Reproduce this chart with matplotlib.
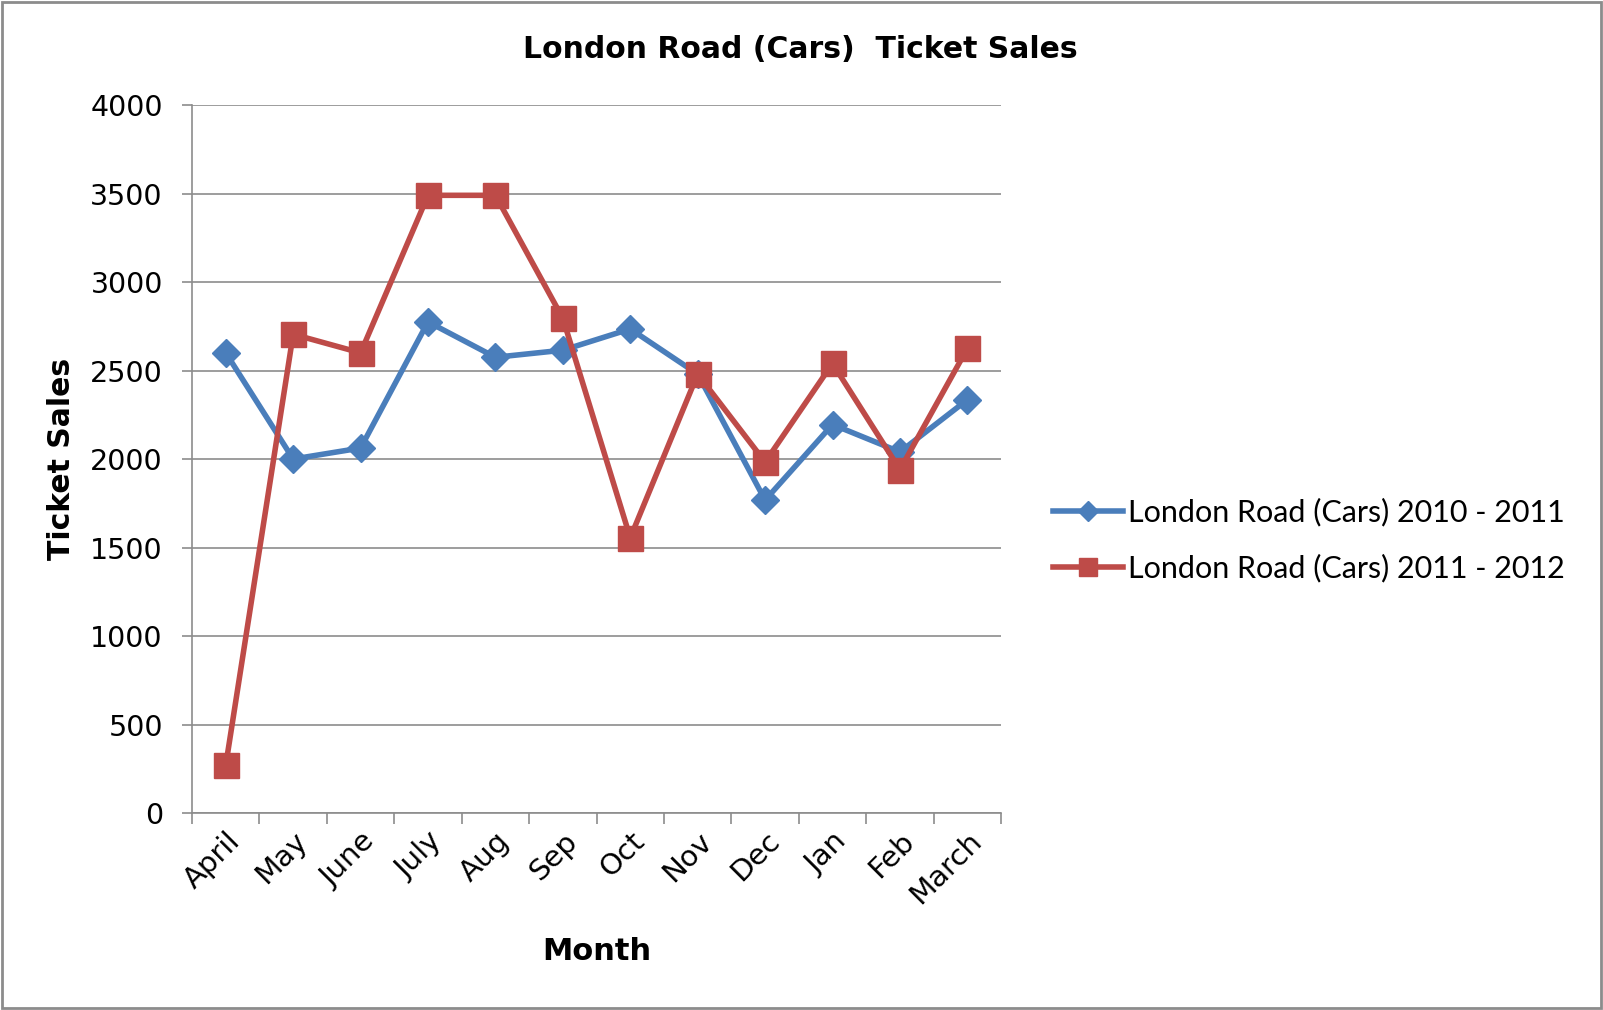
import matplotlib
matplotlib.use("Agg")
import matplotlib.pyplot as plt
from matplotlib.patches import Rectangle

months = ["April", "May", "June", "July", "Aug", "Sep", "Oct", "Nov", "Dec", "Jan", "Feb", "March"]
sales_2010_2011 = [2600, 2000, 2062, 2775, 2575, 2615, 2735, 2480, 1768, 2195, 2040, 2335]
sales_2011_2012 = [270, 2705, 2600, 3490, 3490, 2795, 1555, 2480, 1983, 2540, 1940, 2625]
series_labels = ["London Road (Cars) 2010 - 2011", "London Road (Cars) 2011 - 2012"]
y_ticks = [0, 500, 1000, 1500, 2000, 2500, 3000, 3500, 4000]

fig = plt.figure(figsize=(16.03, 10.10), dpi=100)
fig.patches.append(Rectangle((0.0015, 0.002), 0.997, 0.996, transform=fig.transFigure,
                             fill=False, edgecolor="#8c8c8c", linewidth=2))
ax = fig.add_axes([0.1198, 0.195, 0.5047, 0.701])

x = [i + 0.5 for i in range(len(months))]
blue = "#4A7EBB"
red = "#BE4B48"
ax.plot(x, sales_2010_2011, color=blue, linewidth=4, marker="D", markersize=14,
        markeredgecolor=blue, label=series_labels[0], zorder=3)
ax.plot(x, sales_2011_2012, color=red, linewidth=4, marker="s", markersize=18,
        markeredgecolor=red, label=series_labels[1], zorder=4)

ax.set_xlim(0, 12)
ax.set_ylim(0, 4000)
ax.set_yticks(y_ticks)
ax.set_yticklabels([str(v) for v in y_ticks], fontsize=20.5)
ax.yaxis.grid(True, color="#8c8c8c", linewidth=1.2)
ax.set_axisbelow(True)
ax.tick_params(axis="y", length=7, color="#8c8c8c", width=1.2, pad=14)

ax.set_xticks(range(0, 13))
ax.set_xticklabels([""] * 13)
ax.tick_params(axis="x", which="major", length=8, color="#8c8c8c", width=1.2)
ax.set_xticks(x, minor=True)
ax.set_xticklabels(months, minor=True, rotation=45, ha="right", rotation_mode="anchor", fontsize=21)
ax.tick_params(axis="x", which="minor", length=0, pad=10)

for s in ["top", "right"]:
    ax.spines[s].set_visible(False)
for s in ["left", "bottom"]:
    ax.spines[s].set_color("#8c8c8c")
    ax.spines[s].set_linewidth(1.2)

ax.set_ylabel("Ticket Sales", fontsize=21.5, fontweight="bold", labelpad=10)
ax.set_xlabel("Month", fontsize=22, fontweight="bold", labelpad=20)
fig.text(0.4995, 0.951, "London Road (Cars)  Ticket Sales", ha="center", va="center",
         fontsize=21.5, fontweight="bold")

leg = fig.legend(handles=ax.get_lines(), loc="center left", bbox_to_anchor=(0.657, 0.465),
                 frameon=False, borderpad=0, borderaxespad=0,
                 prop={"family": "Lato", "size": 22}, handlelength=2.3, handletextpad=0.15,
                 labelspacing=0.88, markerscale=0.72)

fig.savefig("out.png", dpi=100)
